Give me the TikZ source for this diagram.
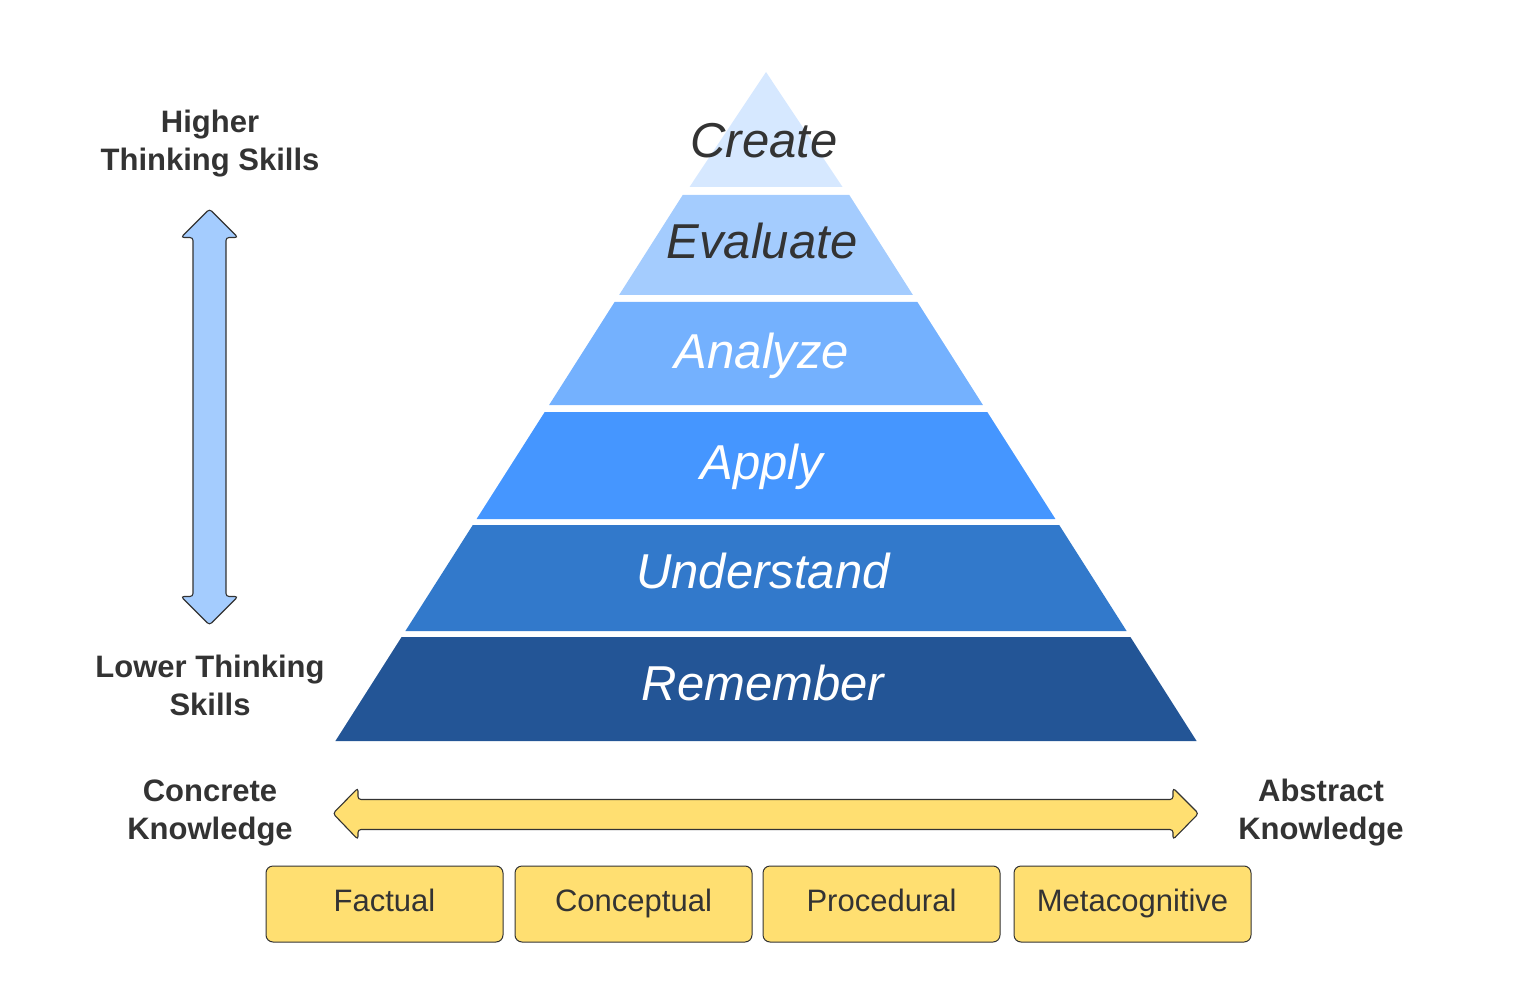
\documentclass[tikz,border=0pt]{standalone}
\usepackage{fontspec}
\setmainfont{Liberation Sans}
\definecolor{txt}{HTML}{333333}
\definecolor{cCreate}{HTML}{D6E8FF}
\definecolor{cEval}{HTML}{A4CCFE}
\definecolor{cAnal}{HTML}{74B1FE}
\definecolor{cApply}{HTML}{4596FF}
\definecolor{cUnder}{HTML}{3279CB}
\definecolor{cRemem}{HTML}{235596}
\definecolor{cYel}{HTML}{FFDF71}
\definecolor{cArrow}{HTML}{A4CCFE}
\begin{document}
\begin{tikzpicture}[x=1pt,y=-1pt,
  layer/.style={font=\fontsize{49}{56}\selectfont\itshape, inner sep=0pt, anchor=base},
  side/.style={font=\fontsize{31}{38}\selectfont\bfseries, text=txt, align=center, inner sep=0pt},
  kbox/.style={draw=txt, line width=1pt, fill=cYel, rounded corners=7pt, minimum width=237pt, minimum height=76pt, font=\fontsize{31}{36}\selectfont, text=txt, inner sep=0pt, text height=22pt, text depth=8pt},
  shapeline/.style={draw=txt, line width=1.1pt, rounded corners=3pt}
]
\useasboundingbox (0,0) rectangle (1531,1008);
% pyramid layers
\fill[cCreate] (766,72) -- (842.5,187) -- (689.5,187) -- cycle;
\fill[cEval] (682.7,195) -- (849.3,195) -- (912.9,295) -- (619.1,295) -- cycle;
\fill[cAnal] (614.6,302) -- (917.4,302) -- (982.9,405) -- (549.1,405) -- cycle;
\fill[cApply] (544.7,412) -- (987.3,412) -- (1055.4,519) -- (476.6,519) -- cycle;
\fill[cUnder] (472.8,525) -- (1059.2,525) -- (1126.6,631) -- (405.4,631) -- cycle;
\fill[cRemem] (401.6,637) -- (1130.4,637) -- (1196.6,741) -- (335.4,741) -- cycle;
% layer labels
\node[layer, text=txt] (create) at (764,158) {Create};
\node[layer, text=txt] (evaluate) at (762,259) {Evaluate};
\node[layer, text=white] (analyze) at (762,368) {Analyze};
\node[layer, text=white] (apply) at (762,479) {Apply};
\node[layer, text=white] (understand) at (763,588) {Understand};
\node[layer, text=white] (remember) at (763,700) {Remember};
% side labels
\node[side] (higher) at (210,144) {Higher\\Thinking Skills};
\node[side] (lower) at (210,685) {Lower Thinking\\Skills};
\node[side] (concrete) at (210,813) {Concrete\\Knowledge};
\node[side] (abstract) at (1321,813) {Abstract\\Knowledge};
% vertical double arrow
\path[shapeline, fill=cArrow] (209.5,209) -- (238,237.5) -- (226,237.5) -- (226,596.5) -- (238,596.5)
  -- (209.5,625) -- (181,596.5) -- (193,596.5) -- (193,237.5) -- (181,237.5) -- cycle;
% horizontal double arrow
\path[shapeline, fill=cYel] (333,813.5) -- (358,788) -- (358,799.5) -- (1173,799.5) -- (1173,788)
  -- (1198.5,813.5) -- (1173,839.5) -- (1173,829.5) -- (358,829.5) -- (358,839.5) -- cycle;
% knowledge boxes
\node[kbox] (factual) at (384.5,904) {Factual};
\node[kbox] (conceptual) at (633.5,904) {Conceptual};
\node[kbox] (procedural) at (881.5,904) {Procedural};
\node[kbox] (meta) at (1132.5,904) {Metacognitive};
\end{tikzpicture}
\end{document}
